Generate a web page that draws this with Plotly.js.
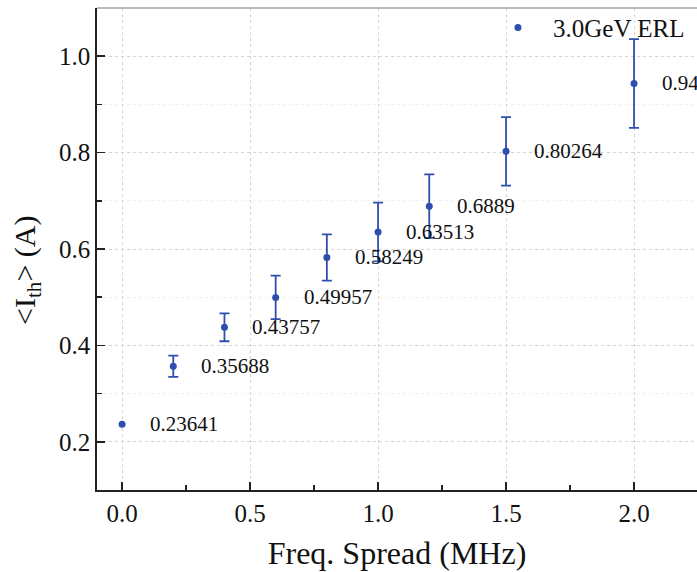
<!DOCTYPE html>
<html>
<head>
<meta charset="utf-8">
<script src="https://cdn.plot.ly/plotly-3.0.1.min.js"></script>
<style>html,body{margin:0;padding:0;background:#fff;}#chart{width:697px;height:572px;}</style>
</head>
<body>
<div id="chart"></div>
<script>
const freqSpread = [0, 0.2, 0.4, 0.6, 0.8, 1.0, 1.2, 1.5, 2.0];
const ithMean = [0.23641, 0.35688, 0.43757, 0.49957, 0.58249, 0.63513, 0.6889, 0.80264, 0.9435];
const ithErr = [0, 0.022, 0.029, 0.045, 0.048, 0.061, 0.066, 0.071, 0.092];
const pointLabels = ["0.23641", "0.35688", "0.43757", "0.49957", "0.58249", "0.63513", "0.6889", "0.80264", "0.94"];
const seriesName = "3.0GeV ERL";
const xTickVals = [0, 0.5, 1.0, 1.5, 2.0];
const yTickVals = [0.2, 0.4, 0.6, 0.8, 1.0];

const blue = "#2f4fae";
const serif = "Liberation Serif, Times New Roman, serif";

// first point has no error bar; the rest carry their error bars
const noErrIdx = ithErr.map((e, i) => e > 0 ? -1 : i).filter(i => i >= 0);
const errIdx = ithErr.map((e, i) => e > 0 ? i : -1).filter(i => i >= 0);

const traceErr = {
  x: errIdx.map(i => freqSpread[i]), y: errIdx.map(i => ithMean[i]),
  type: "scatter", mode: "markers", name: seriesName,
  marker: {color: blue, size: 7},
  error_y: {type: "data", array: errIdx.map(i => ithErr[i]), visible: true, color: blue, thickness: 1.8, width: 5},
  showlegend: true
};
const traceNoErr = {
  x: noErrIdx.map(i => freqSpread[i]), y: noErrIdx.map(i => ithMean[i]),
  type: "scatter", mode: "markers", name: seriesName,
  marker: {color: blue, size: 7}, showlegend: false
};

const annotations = freqSpread.map((x, i) => ({
  x: x, y: ithMean[i], xref: "x", yref: "y", text: pointLabels[i],
  showarrow: false, xanchor: "left", yanchor: "middle", xshift: 26,
  font: {family: serif, size: 21, color: "#111"}
}));
annotations.push({
  xref: "paper", yref: "paper", x: -0.118, y: 0.455, xanchor: "center", yanchor: "middle",
  text: "&lt;I<sub>th</sub>&gt; (A)", textangle: -90, showarrow: false,
  font: {family: serif, size: 30, color: "#111"}
});

const layout = {
  width: 697, height: 572,
  margin: {l: 97, r: 0, t: 8, b: 82},
  paper_bgcolor: "#fff", plot_bgcolor: "#fff",
  font: {family: serif, color: "#111"},
  xaxis: {
    range: [-0.098, 2.246], tickvals: xTickVals, tickformat: ".1f",
    ticks: "inside", ticklen: 8, tickwidth: 1.5, tickcolor: "#222",
    showline: true, linecolor: "#222", linewidth: 1.8,
    showgrid: true, gridcolor: "#d4d4d4", griddash: "dot", gridwidth: 1,
    zeroline: false,
    minor: {dtick: 0.25, tick0: 0, ticks: "inside", ticklen: 5, tickwidth: 1.5, tickcolor: "#222", showgrid: false},
    tickfont: {family: serif, size: 25, color: "#111"},
    title: {text: "Freq. Spread (MHz)", font: {family: serif, size: 32, color: "#111"}, standoff: 16}
  },
  yaxis: {
    range: [0.1, 1.1], tickvals: yTickVals, tickformat: ".1f",
    ticks: "inside", ticklen: 8, tickwidth: 1.5, tickcolor: "#222",
    showline: true, linecolor: "#222", linewidth: 1.8,
    showgrid: true, gridcolor: "#d4d4d4", griddash: "dot", gridwidth: 1,
    zeroline: false,
    minor: {dtick: 0.1, tick0: 0.1, ticks: "inside", ticklen: 5, tickwidth: 1.5, tickcolor: "#222", showgrid: true, gridcolor: "#f1f1f1", griddash: "dot"},
    tickfont: {family: serif, size: 25, color: "#111"}
  },
  legend: {x: 0.6433, y: 1.007, xanchor: "left", yanchor: "top", bgcolor: "rgba(0,0,0,0)",
    font: {family: serif, size: 25, color: "#111"}, itemsizing: "trace", itemwidth: 60},
  shapes: [{type: "line", xref: "paper", yref: "paper", x0: 0, x1: 1, y0: 1, y1: 1, line: {color: "#777", width: 1}}],
  annotations: annotations
};

Plotly.newPlot("chart", [traceNoErr, traceErr], layout, {displayModeBar: false, staticPlot: true});
</script>
</body>
</html>
